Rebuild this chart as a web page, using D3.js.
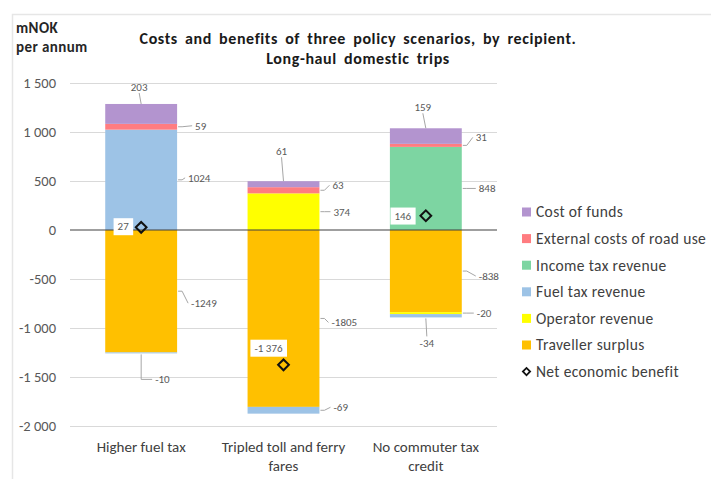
<!DOCTYPE html>
<html><head><meta charset="utf-8">
<script src="https://cdn.jsdelivr.net/npm/d3@7"></script>
<style>
body{margin:0;background:#fff;}
text{font-family:Carlito,Lato,"Open Sans",sans-serif;}
</style></head>
<body><svg id="c" width="711" height="479"></svg>
<script>
// ---- data ----
const categories = [["Higher fuel tax"], ["Tripled toll and ferry", "fares"], ["No commuter tax", "credit"]];
const seriesNames = ["Traveller surplus", "Operator revenue", "Fuel tax revenue", "Income tax revenue", "External costs of road use", "Cost of funds"];
const travellerSurplus = [-1249, -1805, -838];
const operatorRevenue = [0, 374, -20];
const fuelTaxRevenue = [1024, -69, -34];
// fuel tax for Higher fuel tax also has a small negative part
const fuelTaxNegative = [-10, 0, 0];
const incomeTaxRevenue = [0, 0, 848];
const externalCosts = [59, 63, 31];
const costOfFunds = [203, 61, 159];
const netBenefit = [27, -1376, 146];
const netLabels = ["27", "-1 376", "146"];
const yTicks = [1500, 1000, 500, 0, -500, -1000, -1500, -2000];
const yTickLabels = ["1 500", "1 000", "500", "0", "-500", "-1 000", "-1 500", "-2 000"];

// ---- style ----
const colors = {
  "Traveller surplus": "#FFC000", "Operator revenue": "#FFFF00", "Fuel tax revenue": "#9DC3E6",
  "Income tax revenue": "#7DD5A2", "External costs of road use": "#FF7C80", "Cost of funds": "#B394CF"
};

const svg = d3.select("#c");
// frame
svg.append("path").attr("d", "M12.5,479 V14.5 H711").attr("fill", "none").attr("stroke", "#e6e6e6").attr("stroke-width", 1.5);

const x = d3.scaleBand().domain(d3.range(3)).range([70, 497]).paddingInner(0.495).paddingOuter(0.2475);
const y = d3.scaleLinear().domain([-2000, 1500]).range([426, 83]);

// gridlines
svg.append("g").selectAll("line").data(yTicks.filter(v => v !== 0)).join("line")
  .attr("x1", 70).attr("x2", 497).attr("y1", d => Math.round(y(d)) + 0.5).attr("y2", d => Math.round(y(d)) + 0.5)
  .attr("stroke", "#d9d9d9").attr("stroke-width", 1);

// y axis labels
const yAxis = d3.axisLeft(y).tickValues(yTicks).tickSize(0).tickPadding(0)
  .tickFormat((d, i) => yTickLabels[i]);
const ga = svg.append("g").attr("transform", "translate(56,0)").call(yAxis);
ga.select(".domain").remove();
ga.selectAll("text").attr("font-size", 14.5).attr("fill", "#595959").attr("font-family", "Carlito,Lato,sans-serif");

// segments: build stacked list per category
const seriesData = [
  {name: "Traveller surplus", vals: travellerSurplus},
  {name: "Operator revenue", vals: operatorRevenue},
  {name: "Fuel tax revenue", vals: fuelTaxRevenue},
  {name: "Fuel tax revenue", vals: fuelTaxNegative},
  {name: "Income tax revenue", vals: incomeTaxRevenue},
  {name: "External costs of road use", vals: externalCosts},
  {name: "Cost of funds", vals: costOfFunds}
];
const segs = [];
categories.forEach((c, i) => {
  let pos = 0, neg = 0;
  seriesData.forEach(s => {
    const v = s.vals[i];
    if (v === 0) return;
    let y0, y1;
    if (v > 0) { y0 = pos; y1 = pos + v; pos = y1; }
    else { y0 = neg; y1 = neg + v; neg = y1; }
    segs.push({cat: i, name: s.name, v, y0, y1});
  });
});

svg.append("g").selectAll("rect").data(segs).join("rect")
  .attr("x", d => x(d.cat)).attr("width", x.bandwidth())
  .attr("y", d => y(Math.max(d.y0, d.y1))).attr("height", d => Math.abs(y(d.y0) - y(d.y1)))
  .attr("fill", d => colors[d.name]);

// zero line
svg.append("line").attr("x1", 70).attr("x2", 497).attr("y1", y(0)).attr("y2", y(0)).attr("stroke", "#404040").attr("stroke-width", 1.2);

// data label placements: mode, dx, dy
const labelPlace = {
  "0:203": ["top", -2, -17], "0:59": ["right", 18, -1], "0:1024": ["right", 11, -2], "0:-1249": ["right", 14, 12], "0:-10": ["bottom", 14, 26],
  "1:61": ["top", -2, -30], "1:63": ["right", 13, -5], "1:374": ["right", 14, 0], "1:-1805": ["right", 12, 4], "1:-69": ["right", 14, -3],
  "2:159": ["top", -3, -21], "2:31": ["right", 14, -8], "2:848": ["right", 17, 0], "2:-838": ["right", 17, 5], "2:-20": ["right", 15, 0], "2:-34": ["bottom", 1, 26]
};
const lg = svg.append("g");
segs.forEach(d => {
  const p = labelPlace[d.cat + ":" + d.v];
  if (!p) return;
  const cx = x(d.cat) + x.bandwidth() / 2, rx = x(d.cat) + x.bandwidth();
  const ym = (y(d.y0) + y(d.y1)) / 2;
  const yt = y(Math.max(d.y0, d.y1)), yb = y(Math.min(d.y0, d.y1));
  let ax, ay, tx, ty, anchor, path;
  if (p[0] === "top") {
    ax = cx; ay = yt; tx = cx + p[1]; ty = yt + p[2]; anchor = "middle";
    path = `M${ax},${ay} L${tx},${ty + 6}`;
  } else if (p[0] === "right") {
    ax = rx; ay = ym; tx = rx + p[1]; ty = ym + p[2]; anchor = "start";
    path = `M${ax + 1},${ay} L${ax + 5},${ay} L${tx - 3},${ty}`;
  } else {
    ax = cx; ay = yb; tx = cx + p[1]; ty = yb + p[2]; anchor = p[1] > 5 ? "start" : "middle";
    path = anchor === "start" ? `M${ax},${ay + 1} L${ax},${ty} L${tx - 3},${ty}` : `M${ax},${ay + 1} L${tx},${ty - 7}`;
  }
  lg.append("path").attr("d", path).attr("fill", "none").attr("stroke", "#a6a6a6").attr("stroke-width", 1);
  lg.append("text").attr("x", tx).attr("y", ty).attr("dy", "0.35em").attr("text-anchor", anchor)
    .attr("font-size", 11).attr("fill", "#595959").text(d.v);
});

// net benefit markers and boxed labels
const netOffsets = [[-18, -1], [-15, -17], [-23, 0]];
netBenefit.forEach((v, i) => {
  const cx = x(i) + x.bandwidth() / 2, cy = y(v);
  const g = svg.append("g");
  const t = g.append("text").attr("x", cx + netOffsets[i][0]).attr("y", cy + netOffsets[i][1]).attr("dy", "0.35em")
    .attr("text-anchor", "middle").attr("font-size", 11).attr("fill", "#595959").text(netLabels[i]);
  const bb = t.node().getBBox();
  g.insert("rect", "text").attr("x", bb.x - 4).attr("y", bb.y - 2).attr("width", bb.width + 8).attr("height", bb.height + 4).attr("fill", "#fff");
  svg.append("path").attr("d", d3.symbol(d3.symbolSquare, 58)()).attr("transform", `translate(${cx},${cy}) rotate(45)`)
    .attr("fill", "none").attr("stroke", "#111").attr("stroke-width", 2);
});

// category labels
categories.forEach((lines, i) => {
  const t = svg.append("text").attr("x", x(i) + x.bandwidth() / 2).attr("y", 452).attr("text-anchor", "middle")
    .attr("font-size", 15).attr("fill", "#404040");
  lines.forEach((l, j) => t.append("tspan").attr("x", x(i) + x.bandwidth() / 2).attr("dy", j ? 19 : 0).text(l));
});

// title
const titleAttrs = t => t.attr("text-anchor", "middle").attr("font-size", 16).attr("font-weight", "bold").attr("fill", "#1a1a1a")
  .attr("letter-spacing", 0.6).attr("word-spacing", 3);
titleAttrs(svg.append("text").attr("x", 358).attr("y", 44)).text("Costs and benefits of three policy scenarios, by recipient.");
titleAttrs(svg.append("text").attr("x", 358).attr("y", 64)).text("Long-haul  domestic trips");
svg.append("text").attr("x", 16).attr("y", 33).attr("font-size", 15).attr("font-weight", "bold").attr("fill", "#262626").attr("letter-spacing", 0.4).text("mNOK");
svg.append("text").attr("x", 16).attr("y", 52).attr("font-size", 15).attr("font-weight", "bold").attr("fill", "#262626").attr("letter-spacing", 0.4).text("per annum");

// legend
const legendItems = ["Cost of funds", "External costs of road use", "Income tax revenue", "Fuel tax revenue", "Operator revenue", "Traveller surplus", "Net economic benefit"];
const leg = svg.append("g");
legendItems.forEach((n, i) => {
  const ly = 212 + i * 26.6;
  if (colors[n]) {
    leg.append("rect").attr("x", 522).attr("y", ly - 4.5).attr("width", 9).attr("height", 9).attr("fill", colors[n]);
  } else {
    leg.append("path").attr("d", d3.symbol(d3.symbolSquare, 26)()).attr("transform", `translate(526.5,${ly}) rotate(45)`)
      .attr("fill", "none").attr("stroke", "#111").attr("stroke-width", 1.8);
  }
  leg.append("text").attr("x", 536).attr("y", ly).attr("dy", "0.35em").attr("font-size", 15.5).attr("letter-spacing", 0.35)
    .attr("fill", "#404040").text(n);
});
</script></body></html>
